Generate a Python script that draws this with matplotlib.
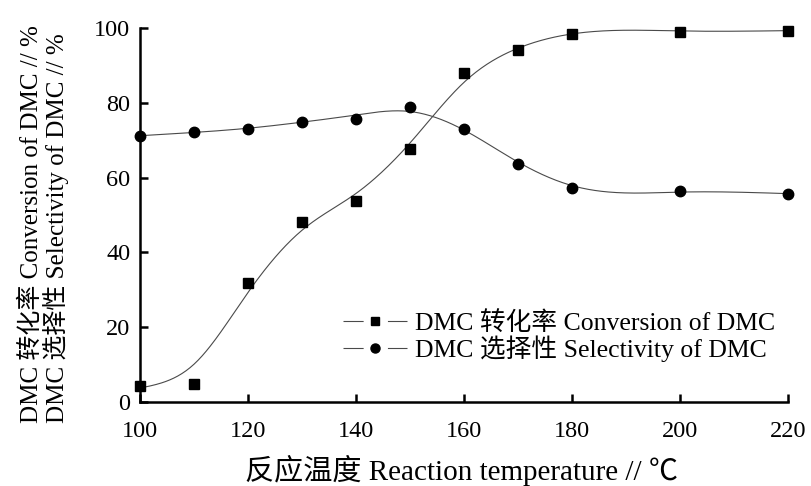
import numpy as np
import matplotlib
matplotlib.use("Agg")
import matplotlib.pyplot as plt
from matplotlib.lines import Line2D

plt.rcParams['font.family'] = ['Liberation Serif', 'Noto Sans CJK SC', 'DejaVu Sans']
plt.rcParams['lines.scale_dashes'] = False

# ---- data ----
temperature = [100, 110, 120, 130, 140, 150, 160, 170, 180, 200, 220]
conversion = [4.3, 4.8, 31.9, 48.2, 53.7, 67.7, 87.9, 94.1, 98.4, 99.0, 99.3]
selectivity = [71.2, 72.1, 73.1, 74.9, 75.8, 79.0, 73.1, 63.6, 57.3, 56.5, 55.7]
xticks = [100, 120, 140, 160, 180, 200, 220]
yticks = [0, 20, 40, 60, 80, 100]
label_conv = "DMC 转化率 Conversion of DMC"
label_sel = "DMC 选择性 Selectivity of DMC"
ylabel1 = "DMC 转化率 Conversion of DMC // %"
ylabel2 = "DMC 选择性 Selectivity of DMC // %"
xlabel = "反应温度 Reaction temperature // ℃"


def smooth_curve(x, y, lam_cont, h=0.25, end_weight=4.0):
    x = np.asarray(x, float)
    y = np.asarray(y, float)
    xg = np.arange(x.min(), x.max() + h / 2, h)
    n = len(xg)
    idx = np.round((x - x.min()) / h).astype(int)
    w = np.zeros(n)
    yf = np.zeros(n)
    w[idx] = 1.0
    w[idx[0]] = end_weight
    w[idx[-1]] = end_weight
    yf[idx] = y
    D = np.diff(np.eye(n), 2, axis=0)
    lam = lam_cont / h ** 3
    A = np.diag(w) + lam * D.T @ D
    f = np.linalg.solve(A, w * yf)
    return xg, f


fig = plt.figure(figsize=(8.11, 4.86), dpi=100)
ax = fig.add_axes([140 / 811, 1 - 402 / 486, 648 / 811, 374 / 486])

line_color = '#4a4a4a'
xc, fc = smooth_curve(temperature, conversion, 110.0)
xs, fs = smooth_curve(temperature, selectivity, 110.0)
ax.plot(xc, fc, color=line_color, lw=0.8, zorder=2)
ax.plot(xs, fs, color=line_color, lw=0.8, zorder=2)
ax.plot(temperature, conversion, linestyle='none', marker='s', ms=7.2,
        color='black', zorder=3, clip_on=False)
ax.plot(temperature, selectivity, linestyle='none', marker='o', ms=7.5,
        color='black', zorder=3, clip_on=False)

ax.set_xlim(100, 220)
ax.set_ylim(0, 100)
ax.set_xticks(xticks)
ax.set_yticks(yticks)
for s in ['top', 'right']:
    ax.spines[s].set_visible(False)
for s in ['left', 'bottom']:
    ax.spines[s].set_linewidth(1.8)
ax.tick_params(direction='in', length=6, width=1.8, labelsize=17.5)
ax.tick_params(axis='x', pad=14)
ax.tick_params(axis='y', pad=7)

# legend
dash = (0, (14.5, 17.5, 14.5, 200))
h1 = Line2D([], [], color=line_color, lw=0.8, linestyle=dash, marker='s',
            ms=6, mfc='black', mec='black')
h2 = Line2D([], [], color=line_color, lw=0.8, linestyle=dash, marker='o',
            ms=6.5, mfc='black', mec='black')
fs_leg = 18.5
leg = fig.legend([h1, h2], [label_conv, label_sel], loc='center left',
                 bbox_to_anchor=(343 / 811, 1 - 336.5 / 486), frameon=False,
                 fontsize=fs_leg, handlelength=64 / (fs_leg * 100 / 72),
                 handletextpad=0.3, borderpad=0, borderaxespad=0,
                 labelspacing=0.0)

fig.text(31 / 811, 1 - 423 / 486, ylabel1, rotation=90, ha='center',
         va='bottom', fontsize=18)
fig.text(56 / 811, 1 - 423 / 486, ylabel2, rotation=90, ha='center',
         va='bottom', fontsize=18)
fig.text(462 / 811, 1 - 470 / 486, xlabel, ha='center', va='center',
         fontsize=21)

fig.savefig('out.png', dpi=100)
